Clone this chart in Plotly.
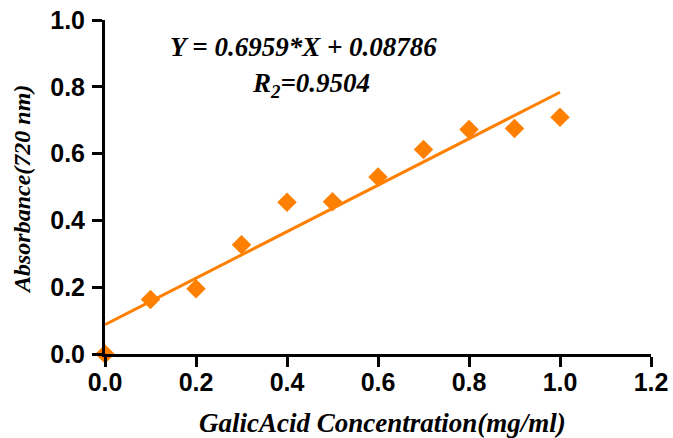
import plotly.graph_objects as go

conc = [0.0, 0.1, 0.2, 0.3, 0.4, 0.5, 0.6, 0.7, 0.8, 0.9, 1.0]
absorb = [0.0, 0.163, 0.195, 0.327, 0.454, 0.456, 0.530, 0.612, 0.672, 0.675, 0.709]
slope = 0.6959
intercept = 0.08786
fit_x = [0.0, 1.0]
fit_y = [intercept + slope * x for x in fit_x]
x_ticks = [0, 0.2, 0.4, 0.6, 0.8, 1.0, 1.2]
x_labels = ["0.0", "0.2", "0.4", "0.6", "0.8", "1.0", "1.2"]
y_ticks = [0, 0.2, 0.4, 0.6, 0.8, 1.0]
y_labels = ["0.0", "0.2", "0.4", "0.6", "0.8", "1.0"]

orange = "#FF8000"
fig = go.Figure()
fig.add_trace(go.Scatter(x=fit_x, y=fit_y, mode="lines",
                         line=dict(color=orange, width=3), cliponaxis=False))
fig.add_trace(go.Scatter(x=conc, y=absorb, mode="markers",
                         marker=dict(symbol="diamond", size=15, color=orange),
                         cliponaxis=False))

tickfont = dict(family="Liberation Sans, Arial", size=25, color="black", weight="bold")
titlefont = dict(family="Liberation Serif, Times New Roman", size=27, color="black",
                 weight="bold", style="italic")
ytitlefont = dict(family="Liberation Serif, Times New Roman", size=24, color="black",
                  weight="bold", style="italic")

axis_common = dict(showgrid=False, zeroline=False, showline=True, linecolor="black",
                   linewidth=3, ticks="outside", ticklen=10, tickwidth=3,
                   tickcolor="black", tickfont=tickfont, automargin=False,
                   ticklabeloverflow="allow")

fig.update_layout(
    width=673, height=438,
    margin=dict(l=105, r=22, t=20, b=84),
    plot_bgcolor="white", paper_bgcolor="white",
    showlegend=False,
    xaxis=dict(range=[0, 1.2], tickvals=x_ticks, ticktext=x_labels,
               ticklabelstandoff=-6, **axis_common),
    yaxis=dict(range=[0, 1.0], tickvals=y_ticks, ticktext=y_labels,
               ticklabelstandoff=2, **axis_common),
    annotations=[
        dict(x=0.437, y=0.918, xref="x", yref="y",
             text="Y = 0.6959*X + 0.08786", showarrow=False, font=titlefont),
        dict(x=0.452, y=0.804, xref="x", yref="y",
             text="R<sub>2</sub>=0.9504", showarrow=False, font=titlefont),
        dict(x=0.509, y=-0.207, xref="paper", yref="paper",
             xanchor="center", yanchor="middle",
             text="GalicAcid Concentration(mg/ml)", showarrow=False, font=titlefont),
        dict(x=-0.152, y=0.491, xref="paper", yref="paper", textangle=-90,
             xanchor="center", yanchor="middle",
             text="Absorbance(720 nm)", showarrow=False, font=ytitlefont),
    ],
)

fig.write_html("out.html", config={"displayModeBar": False},
               post_script="document.body.style.margin='0';document.body.style.overflow='hidden';")
